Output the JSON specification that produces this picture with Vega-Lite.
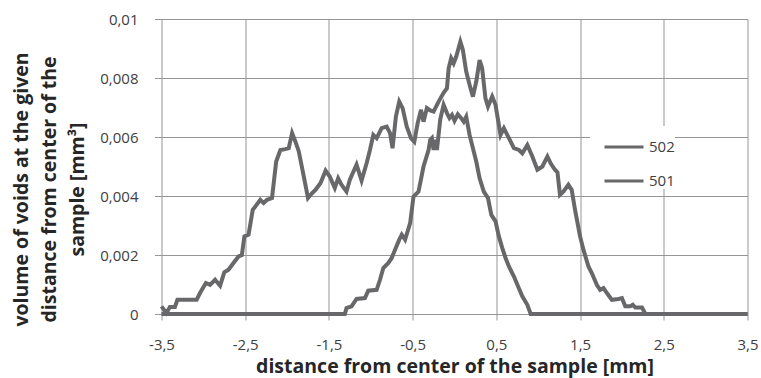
{
  "$schema": "https://vega.github.io/schema/vega-lite/v6.json",
  "width": 586,
  "height": 295,
  "autosize": "none",
  "padding": {"left": 161.5, "top": 19, "right": 13.5, "bottom": 64},
  "background": "white",
  "config": {
    "view": {"stroke": null},
    "font": "Open Sans",
    "locale": {"number": {"decimal": ",", "thousands": ".", "grouping": [3], "currency": ["", ""], "minus": "-"}},
    "axis": {"gridColor": "#959595", "gridOpacity": 1, "tickColor": "#959595", "labelColor": "#404040", "labelFontSize": 15, "titleColor": "#262626", "titleFontWeight": "bold", "titleFont": "Open Sans"}
  },
  "data": {"values": [
    {"s":"502","x":-3.5,"y":0.00026},{"s":"502","x":-3.44,"y":0.00003},{"s":"502","x":-3.4,"y":0.00024},{"s":"502","x":-3.34,"y":0.00024},{"s":"502","x":-3.31,"y":0.00048},{"s":"502","x":-3.08,"y":0.00048},{"s":"502","x":-3.04,"y":0.00071},{"s":"502","x":-2.97,"y":0.00105},{"s":"502","x":-2.92,"y":0.00099},{"s":"502","x":-2.86,"y":0.00116},{"s":"502","x":-2.8,"y":0.00096},{"s":"502","x":-2.75,"y":0.00141},{"s":"502","x":-2.7,"y":0.0015},{"s":"502","x":-2.64,"y":0.00173},{"s":"502","x":-2.58,"y":0.00195},{"s":"502","x":-2.54,"y":0.002},{"s":"502","x":-2.51,"y":0.00263},{"s":"502","x":-2.46,"y":0.00269},{"s":"502","x":-2.41,"y":0.00353},{"s":"502","x":-2.38,"y":0.00364},{"s":"502","x":-2.32,"y":0.00387},{"s":"502","x":-2.28,"y":0.00376},{"s":"502","x":-2.24,"y":0.00387},{"s":"502","x":-2.18,"y":0.00393},{"s":"502","x":-2.13,"y":0.00517},{"s":"502","x":-2.08,"y":0.00556},{"s":"502","x":-2.02,"y":0.00559},{"s":"502","x":-1.98,"y":0.00562},{"s":"502","x":-1.94,"y":0.00613},{"s":"502","x":-1.9,"y":0.00584},{"s":"502","x":-1.86,"y":0.00551},{"s":"502","x":-1.8,"y":0.00466},{"s":"502","x":-1.75,"y":0.00393},{"s":"502","x":-1.7,"y":0.0041},{"s":"502","x":-1.66,"y":0.00421},{"s":"502","x":-1.6,"y":0.00444},{"s":"502","x":-1.54,"y":0.00486},{"s":"502","x":-1.49,"y":0.00466},{"s":"502","x":-1.43,"y":0.00427},{"s":"502","x":-1.39,"y":0.0046},{"s":"502","x":-1.35,"y":0.00438},{"s":"502","x":-1.29,"y":0.00415},{"s":"502","x":-1.25,"y":0.00455},{"s":"502","x":-1.17,"y":0.00506},{"s":"502","x":-1.11,"y":0.00452},{"s":"502","x":-1.05,"y":0.00511},{"s":"502","x":-1.01,"y":0.00556},{"s":"502","x":-0.97,"y":0.00607},{"s":"502","x":-0.93,"y":0.00596},{"s":"502","x":-0.87,"y":0.0063},{"s":"502","x":-0.81,"y":0.00635},{"s":"502","x":-0.77,"y":0.00613},{"s":"502","x":-0.74,"y":0.00562},{"s":"502","x":-0.7,"y":0.00669},{"s":"502","x":-0.66,"y":0.0072},{"s":"502","x":-0.62,"y":0.00698},{"s":"502","x":-0.57,"y":0.00635},{"s":"502","x":-0.52,"y":0.00596},{"s":"502","x":-0.48,"y":0.00584},{"s":"502","x":-0.44,"y":0.00647},{"s":"502","x":-0.4,"y":0.00692},{"s":"502","x":-0.37,"y":0.00652},{"s":"502","x":-0.33,"y":0.00698},{"s":"502","x":-0.29,"y":0.0069},{"s":"502","x":-0.25,"y":0.00686},{"s":"502","x":-0.19,"y":0.0072},{"s":"502","x":-0.13,"y":0.0075},{"s":"502","x":-0.09,"y":0.00765},{"s":"502","x":-0.07,"y":0.00833},{"s":"502","x":-0.04,"y":0.00867},{"s":"502","x":-0.01,"y":0.0085},{"s":"502","x":0.02,"y":0.00872},{"s":"502","x":0.07,"y":0.00923},{"s":"502","x":0.1,"y":0.00895},{"s":"502","x":0.14,"y":0.00822},{"s":"502","x":0.18,"y":0.00777},{"s":"502","x":0.22,"y":0.00737},{"s":"502","x":0.26,"y":0.00788},{"s":"502","x":0.3,"y":0.00861},{"s":"502","x":0.33,"y":0.00833},{"s":"502","x":0.37,"y":0.00731},{"s":"502","x":0.4,"y":0.00703},{"s":"502","x":0.45,"y":0.00737},{"s":"502","x":0.49,"y":0.00709},{"s":"502","x":0.55,"y":0.00607},{"s":"502","x":0.59,"y":0.0063},{"s":"502","x":0.65,"y":0.00596},{"s":"502","x":0.71,"y":0.00562},{"s":"502","x":0.77,"y":0.00556},{"s":"502","x":0.81,"y":0.00545},{"s":"502","x":0.87,"y":0.00573},{"s":"502","x":0.93,"y":0.00534},{"s":"502","x":0.99,"y":0.00489},{"s":"502","x":1.05,"y":0.005},{"s":"502","x":1.11,"y":0.00534},{"s":"502","x":1.15,"y":0.0051},{"s":"502","x":1.2,"y":0.00489},{"s":"502","x":1.23,"y":0.0048},{"s":"502","x":1.26,"y":0.00404},{"s":"502","x":1.3,"y":0.00415},{"s":"502","x":1.36,"y":0.00438},{"s":"502","x":1.4,"y":0.00421},{"s":"502","x":1.44,"y":0.00353},{"s":"502","x":1.5,"y":0.00263},{"s":"502","x":1.54,"y":0.00218},{"s":"502","x":1.6,"y":0.00161},{"s":"502","x":1.64,"y":0.00139},{"s":"502","x":1.7,"y":0.00099},{"s":"502","x":1.74,"y":0.00082},{"s":"502","x":1.78,"y":0.00088},{"s":"502","x":1.82,"y":0.00071},{"s":"502","x":1.88,"y":0.00048},{"s":"502","x":1.96,"y":0.00051},{"s":"502","x":2.0,"y":0.00054},{"s":"502","x":2.04,"y":0.00026},{"s":"502","x":2.1,"y":0.00026},{"s":"502","x":2.13,"y":0.00031},{"s":"502","x":2.16,"y":0.00022},{"s":"502","x":2.24,"y":0.00022},{"s":"502","x":2.28,"y":0},{"s":"502","x":3.5,"y":0},
    {"s":"501","x":-3.5,"y":0},{"s":"501","x":-1.31,"y":0},{"s":"501","x":-1.29,"y":0.0002},{"s":"501","x":-1.23,"y":0.00026},{"s":"501","x":-1.17,"y":0.00051},{"s":"501","x":-1.07,"y":0.00054},{"s":"501","x":-1.03,"y":0.00079},{"s":"501","x":-0.93,"y":0.00082},{"s":"501","x":-0.89,"y":0.00116},{"s":"501","x":-0.85,"y":0.00156},{"s":"501","x":-0.79,"y":0.00173},{"s":"501","x":-0.75,"y":0.0019},{"s":"501","x":-0.71,"y":0.00218},{"s":"501","x":-0.66,"y":0.00252},{"s":"501","x":-0.63,"y":0.00269},{"s":"501","x":-0.59,"y":0.00252},{"s":"501","x":-0.53,"y":0.00308},{"s":"501","x":-0.49,"y":0.00398},{"s":"501","x":-0.43,"y":0.00415},{"s":"501","x":-0.37,"y":0.005},{"s":"501","x":-0.31,"y":0.00556},{"s":"501","x":-0.29,"y":0.0059},{"s":"501","x":-0.27,"y":0.00596},{"s":"501","x":-0.25,"y":0.00556},{"s":"501","x":-0.23,"y":0.0059},{"s":"501","x":-0.21,"y":0.00556},{"s":"501","x":-0.17,"y":0.0066},{"s":"501","x":-0.13,"y":0.00709},{"s":"501","x":-0.09,"y":0.00681},{"s":"501","x":-0.06,"y":0.00664},{"s":"501","x":-0.03,"y":0.00675},{"s":"501","x":0.0,"y":0.00655},{"s":"501","x":0.04,"y":0.00677},{"s":"501","x":0.08,"y":0.00664},{"s":"501","x":0.11,"y":0.00652},{"s":"501","x":0.14,"y":0.00669},{"s":"501","x":0.18,"y":0.00607},{"s":"501","x":0.22,"y":0.00562},{"s":"501","x":0.26,"y":0.00517},{"s":"501","x":0.3,"y":0.0046},{"s":"501","x":0.35,"y":0.00415},{"s":"501","x":0.4,"y":0.00393},{"s":"501","x":0.44,"y":0.00336},{"s":"501","x":0.49,"y":0.00314},{"s":"501","x":0.53,"y":0.00263},{"s":"501","x":0.57,"y":0.00224},{"s":"501","x":0.61,"y":0.0019},{"s":"501","x":0.65,"y":0.00161},{"s":"501","x":0.71,"y":0.00127},{"s":"501","x":0.76,"y":0.00093},{"s":"501","x":0.81,"y":0.0006},{"s":"501","x":0.87,"y":0.00031},{"s":"501","x":0.91,"y":0},{"s":"501","x":3.5,"y":0}
  ]},
  "mark": {"type": "line", "strokeWidth": 4, "clip": false},
  "encoding": {
    "x": {
      "field": "x", "type": "quantitative",
      "scale": {"domain": [-3.5, 3.5], "nice": false, "zero": false},
      "axis": {
        "values": [-3.5, -2.5, -1.5, -0.5, 0.5, 1.5, 2.5, 3.5],
        "format": ".1f", "grid": true, "domain": false,
        "tickSize": 6, "labelPadding": 29, "labelBaseline": "alphabetic",
        "labelFlush": false, "labelOverlap": false,
        "title": "distance from center of the sample [mm]",
        "titleFontSize": 19.5, "titleBaseline": "alphabetic", "titleY": 58.5
      }
    },
    "y": {
      "field": "y", "type": "quantitative",
      "scale": {"domain": [0, 0.01], "nice": false},
      "axis": {
        "values": [0, 0.002, 0.004, 0.006, 0.008, 0.01],
        "format": "~f", "grid": true, "domain": false,
        "tickSize": 7, "labelPadding": 16.5,
        "labelFlush": false, "labelOverlap": false,
        "title": ["volume of voids at the given", "distance from center of the", "sample [mm³]"],
        "titleFontSize": 19.5, "titleAngle": -90, "titleBaseline": "top",
        "titleLineHeight": 28, "titleX": -149, "titleY": 170, "titleAlign": "center"
      }
    },
    "color": {
      "field": "s", "type": "nominal",
      "scale": {"domain": ["502", "501"], "range": ["#68686b", "#68686b"]},
      "legend": {
        "title": null, "orient": "none", "legendX": 428.5, "legendY": 107,
        "fillColor": "white", "padding": 0, "symbolOffset": 13,
        "symbolType": "stroke", "symbolSize": 1521, "symbolStrokeWidth": 3,
        "labelFontSize": 15, "labelColor": "#404040", "labelOffset": 4,
        "rowPadding": 5
      }
    }
  }
}
